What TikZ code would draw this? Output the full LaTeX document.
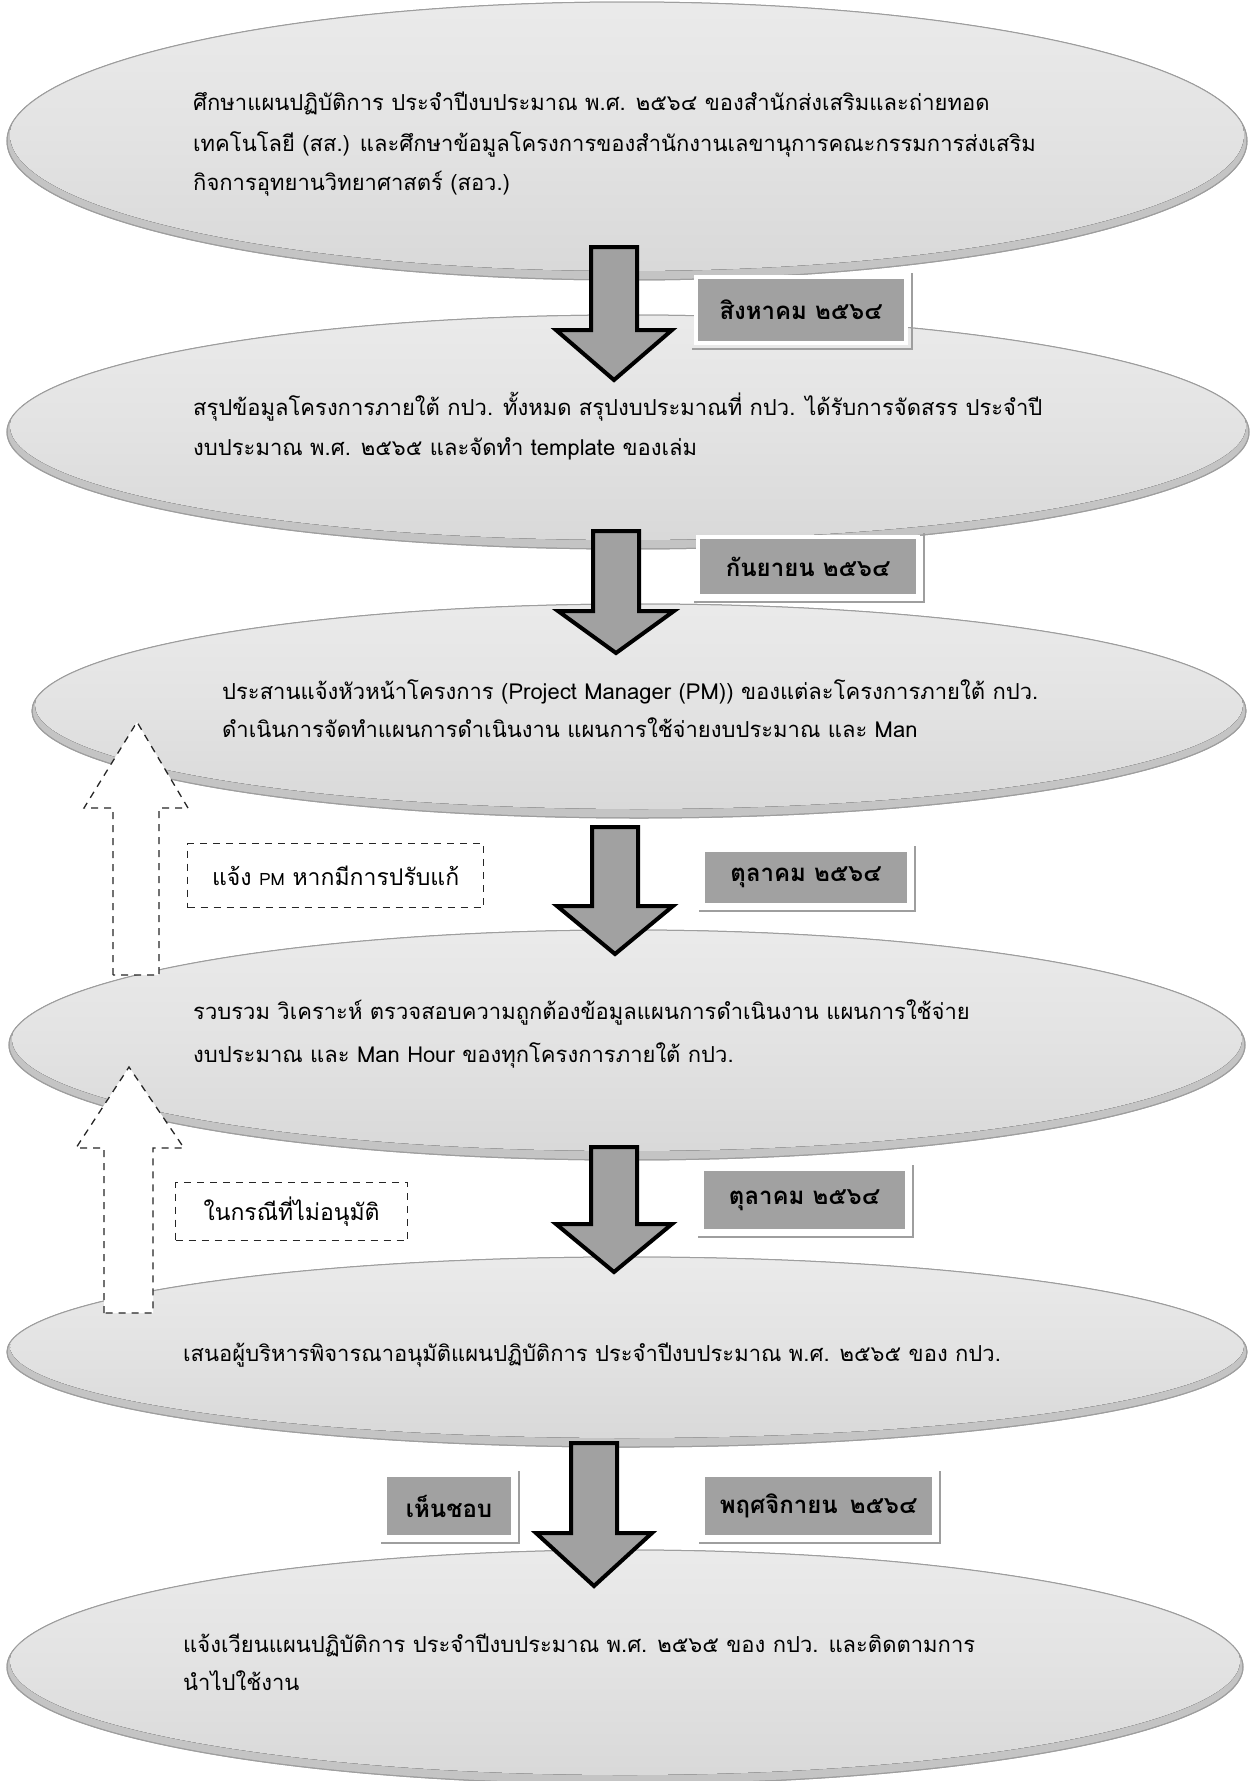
\documentclass[tikz,border=0pt]{standalone}
\usepackage{fontspec}
\setmainfont{Liberation Sans}
\newfontfamily\thai[Script=Thai]{Loma}
\usetikzlibrary{shapes.geometric}
\definecolor{ellTop}{gray}{0.92}
\definecolor{ellMid}{gray}{0.89}
\definecolor{ellBot}{gray}{0.85}
\definecolor{ellRim}{gray}{0.77}
\definecolor{ellLine}{gray}{0.62}
\definecolor{arrFill}{gray}{0.63}
\definecolor{boxFill}{gray}{0.63}
\definecolor{shadowLine}{gray}{0.62}
\tikzset{
  flowell/.style={ellipse, draw=ellLine, line width=1pt, fill=ellRim, inner sep=0pt},
  ellface/.style={top color=ellTop, bottom color=ellBot, middle color=ellMid},
  bodytext/.style={anchor=base west, inner sep=0pt, font=\thai\fontsize{22}{26}\selectfont},
  blockarrow/.style={fill=arrFill, draw=black, line width=4pt, line join=miter},
  dasharrow/.style={fill=white, draw=black!85, line width=1.3pt, dash pattern=on 7pt off 6pt, line join=miter},
  dashbox/.style={draw=black!85, fill=white, line width=1.3pt, dash pattern=on 7pt off 6pt, inner sep=0pt, anchor=north west, font=\thai\fontsize{23}{27}\selectfont},
  datebox/.style={fill=boxFill, draw=white, line width=4pt, inner sep=0pt, anchor=north west, font=\thai\bfseries\fontsize{24}{28}\selectfont},
  boxshadow/.style={draw=shadowLine, line width=1.5pt},
}
\newcommand\flowellipse[5]{% name, cx, cy, rx, ry
  \node[flowell, minimum width={2*#4*1pt}, minimum height={2*#5*1pt}] (#1) at (#2,#3) {};
  \begin{scope}
    \clip (#2,#3) ellipse [x radius=#4, y radius=#5];
    \fill[ellface] (#2,{#3-6}) ellipse [x radius={#4-3}, y radius={#5-3}];
  \end{scope}
  \draw[ellLine, line width=1pt] (#2,#3) ellipse [x radius=#4, y radius=#5];}
\newcommand\blockarr[4]{% centre x, top, head base, tip
  \draw[blockarrow] ({#1-23},#2) -- ({#1+23},#2) -- ({#1+23},#3) -- ({#1+58},#3) -- (#1,#4) -- ({#1-58},#3) -- ({#1-23},#3) -- cycle;}
\newcommand\datelabel[6]{% name, x1, y1, x2, y2, text
  \node[datebox, minimum width={(#4-#2)*1pt}, minimum height={(#5-#3)*1pt}] (#1) at (#2,#3) {#6};
  \draw[boxshadow] ([xshift=4pt,yshift=2pt]#1.north east) -- ([xshift=4pt,yshift=-4pt]#1.south east) -- ([xshift=-2pt,yshift=-4pt]#1.south west);}
\begin{document}
\begin{tikzpicture}[x=1pt,y=-1pt]
\useasboundingbox (0,0) rectangle (1252,1781);
\fill[white] (0,0) rectangle (1252,1781);

% ellipses
\flowellipse{e1}{627}{141}{620}{139}
\flowellipse{e2}{628}{432}{621}{117}
\flowellipse{e3}{639}{711}{607}{107}
\flowellipse{e4}{627}{1045}{618}{115}
\flowellipse{e5}{627}{1352}{620}{95}
\flowellipse{e6}{625}{1667}{618}{117}

% texts
\node[bodytext] (e1a) at (193,110) {ศึกษาแผนปฏิบัติการ ประจำปีงบประมาณ พ.ศ. ๒๕๖๔ ของสำนักส่งเสริมและถ่ายทอด};
\node[bodytext] (e1b) at (193,151) {เทคโนโลยี (สส.) และศึกษาข้อมูลโครงการของสำนักงานเลขานุการคณะกรรมการส่งเสริม};
\node[bodytext] (e1c) at (193,190) {กิจการอุทยานวิทยาศาสตร์ (สอว.)};

\node[bodytext] (e2a) at (193,415) {สรุปข้อมูลโครงการภายใต้ กปว. ทั้งหมด สรุปงบประมาณที่ กปว. ได้รับการจัดสรร ประจำปี};
\node[bodytext] (e2b) at (193,455) {งบประมาณ พ.ศ. ๒๕๖๕ และจัดทำ template ของเล่ม};

\node[bodytext] (e3a) at (222,699) {ประสานแจ้งหัวหน้าโครงการ (Project Manager (PM)) ของแต่ละโครงการภายใต้ กปว.};
\node[bodytext] (e3b) at (222,737) {ดำเนินการจัดทำแผนการดำเนินงาน แผนการใช้จ่ายงบประมาณ และ Man};

\node[bodytext] (e4a) at (193,1019) {รวบรวม วิเคราะห์ ตรวจสอบความถูกต้องข้อมูลแผนการดำเนินงาน แผนการใช้จ่าย};
\node[bodytext] (e4b) at (193,1062) {งบประมาณ และ Man Hour ของทุกโครงการภายใต้ กปว.};

\node[bodytext] (e5a) at (183,1361) {เสนอผู้บริหารพิจารณาอนุมัติแผนปฏิบัติการ ประจำปีงบประมาณ พ.ศ. ๒๕๖๕ ของ กปว.};

\node[bodytext] (e6a) at (183,1652) {แจ้งเวียนแผนปฏิบัติการ ประจำปีงบประมาณ พ.ศ. ๒๕๖๕ ของ กปว. และติดตามการ};
\node[bodytext] (e6b) at (183,1690) {นำไปใช้งาน};

% block arrows
\blockarr{614}{247}{330}{380}
\blockarr{616}{531}{611}{653}
\blockarr{615}{827}{906}{954}
\blockarr{614}{1147}{1224}{1272}
\blockarr{594}{1443}{1533}{1586}

% date labels
\datelabel{d1}{694}{275}{904}{341}{สิงหาคม ๒๕๖๔}
\datelabel{d2}{696}{535}{916}{594}{กันยายน ๒๕๖๔}
\datelabel{d3}{701}{848}{907}{903}{ตุลาคม ๒๕๖๔}
\datelabel{d4}{700}{1167}{905}{1229}{ตุลาคม ๒๕๖๔}
\datelabel{d5}{383}{1473}{511}{1535}{เห็นชอบ}
\datelabel{d6}{701}{1473}{932}{1535}{พฤศจิกายน\hspace{12pt}๒๕๖๔}

% dashed return arrows
\draw[dasharrow] (113,975) -- (113,808) -- (84,808) -- (137,722) -- (188,808) -- (159,808) -- (159,975) -- cycle;
\draw[dasharrow] (104,1313) -- (104,1148) -- (76,1148) -- (129,1067) -- (184,1148) -- (153,1148) -- (153,1313) -- cycle;

% dashed note boxes
\node[dashbox, minimum width=296pt, minimum height=64pt] (n1) at (187,843) {แจ้ง {\fontsize{17}{20}\selectfont PM} หากมีการปรับแก้};
\node[dashbox, minimum width=232pt, minimum height=58pt] (n2) at (175,1182) {ในกรณีที่ไม่อนุมัติ};
\end{tikzpicture}
\end{document}
